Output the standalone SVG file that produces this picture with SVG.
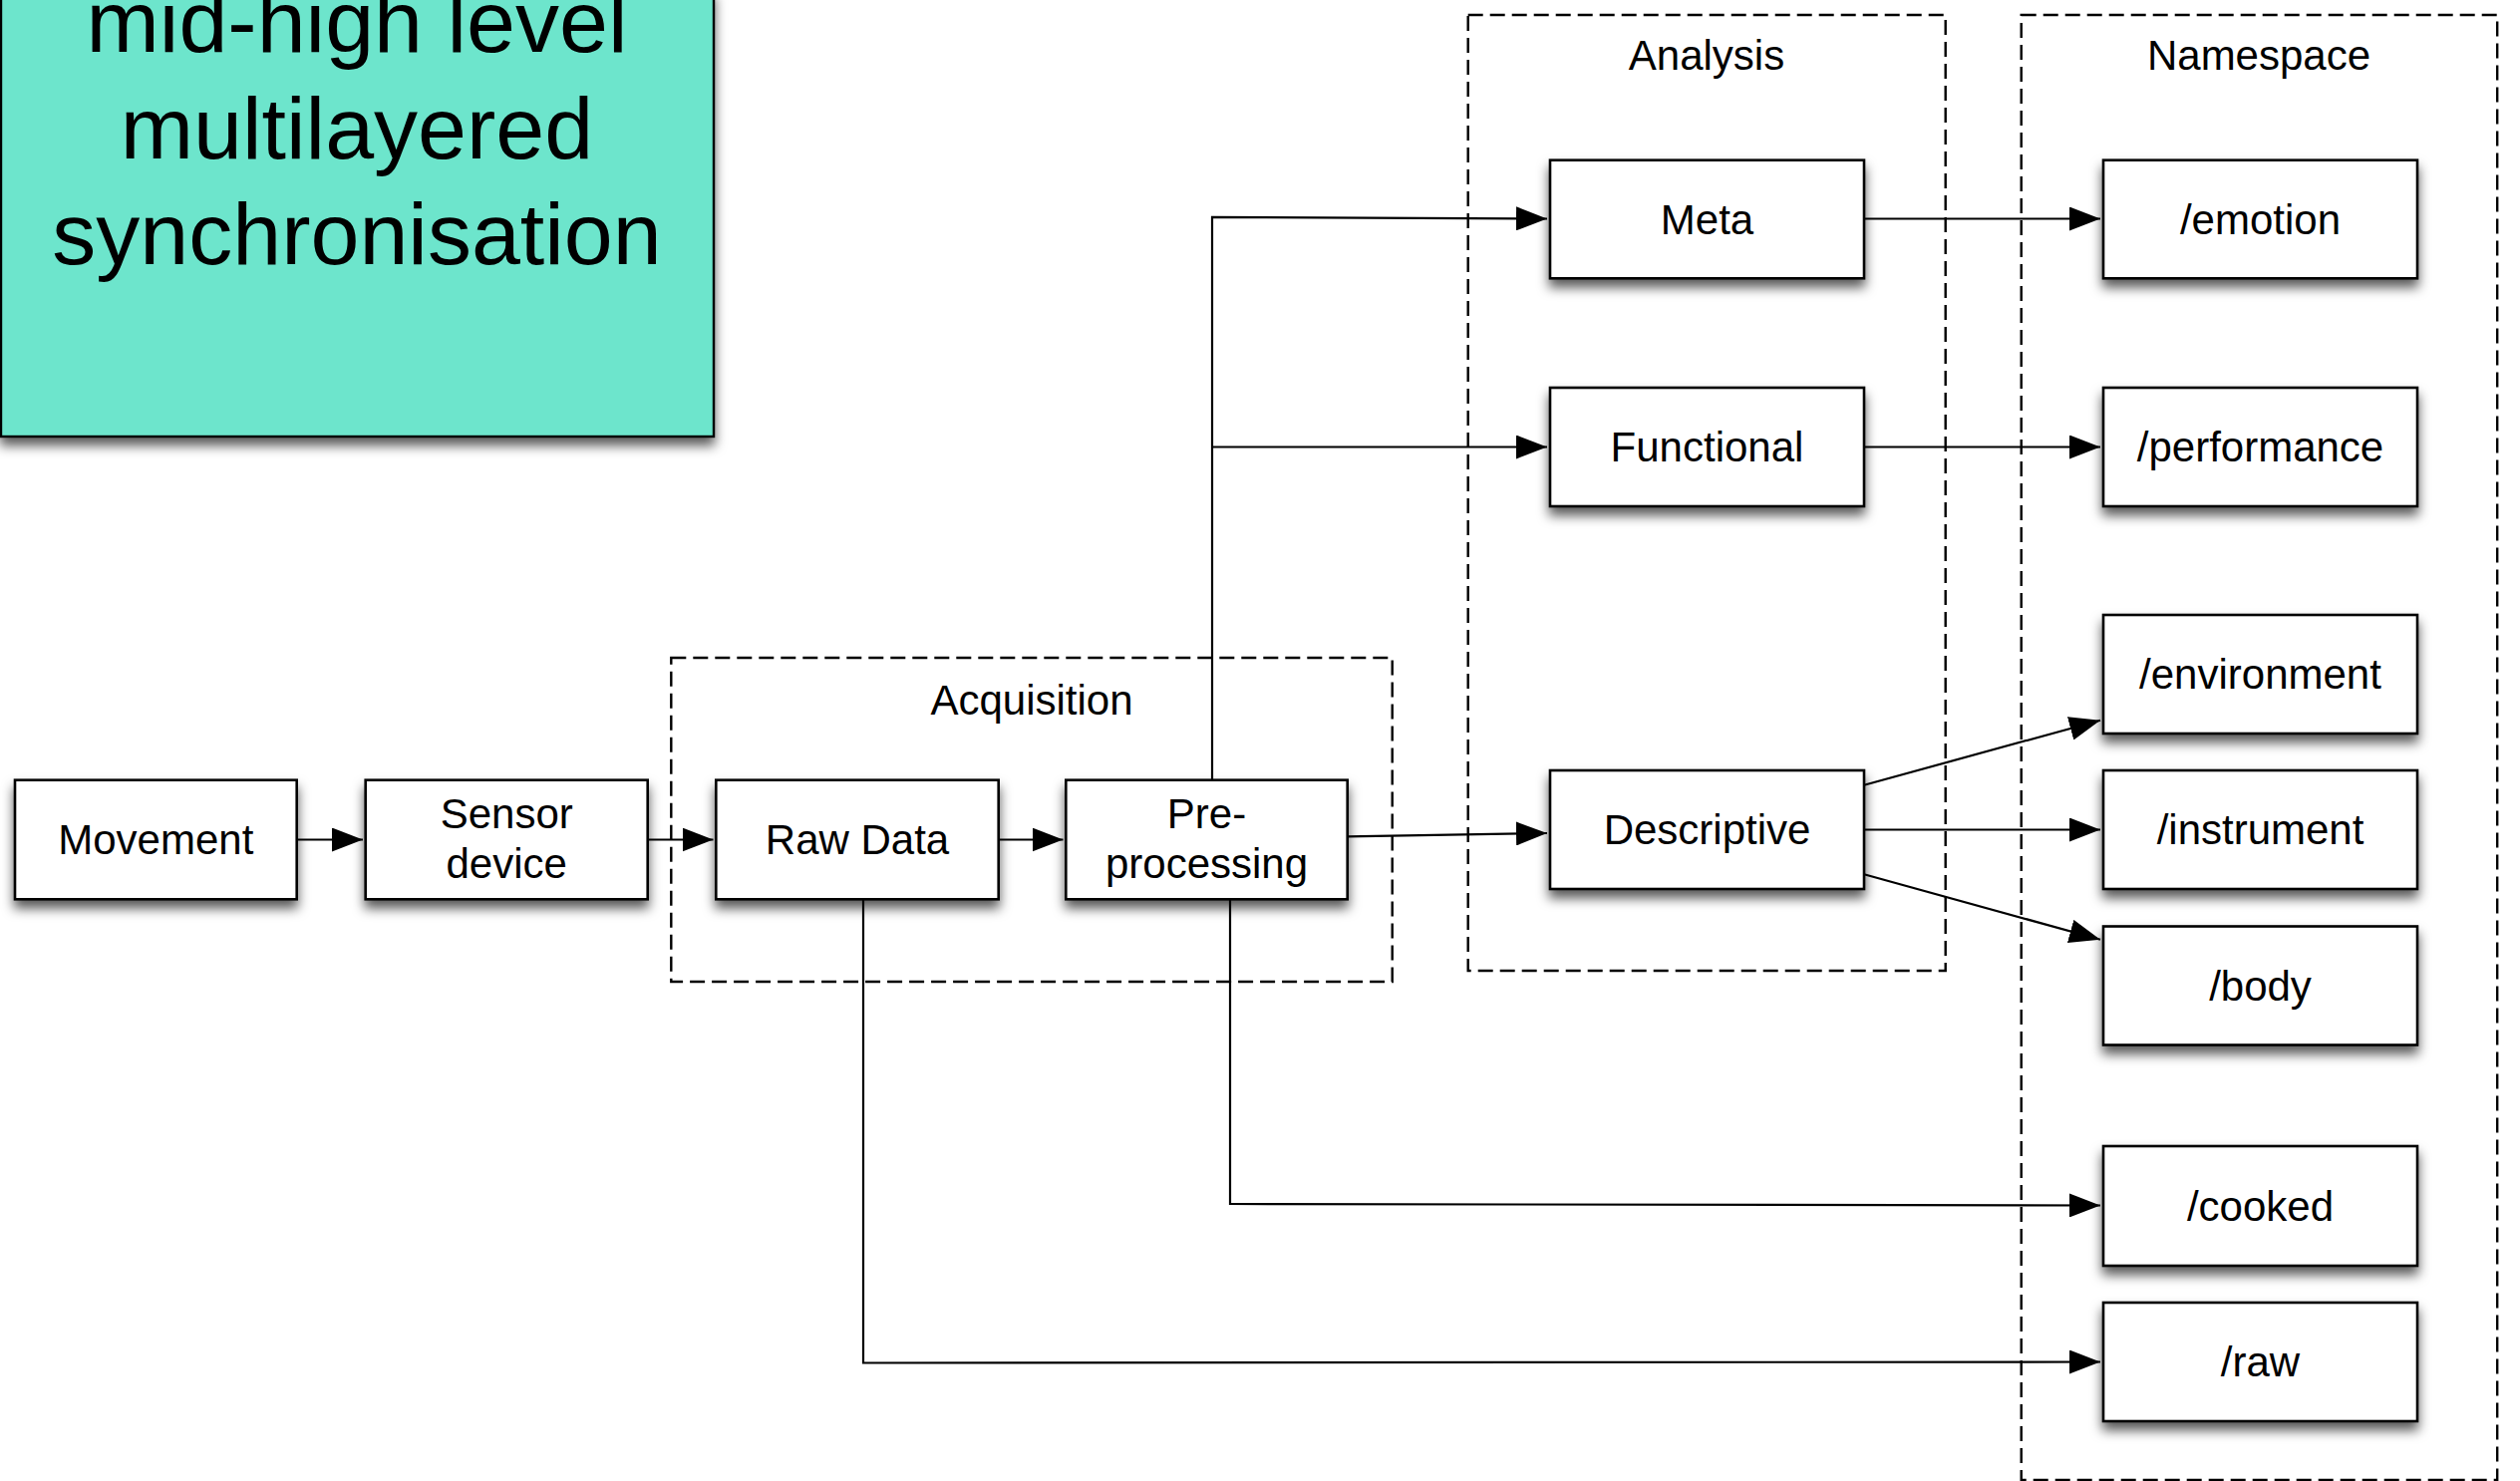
<svg xmlns="http://www.w3.org/2000/svg" width="2528" height="1486" viewBox="0 0 2528 1486">
<style>
.box{fill:#fff;stroke:#000;stroke-width:2.6;filter:url(#sh)}
.grp{fill:none;stroke:#000;stroke-width:2.4;stroke-dasharray:15 7}
.t{font-family:"Liberation Sans",Arial,sans-serif;font-size:42px;text-anchor:middle;fill:#000}
.big{font-family:"Liberation Sans",Arial,sans-serif;font-size:88px;text-anchor:middle;fill:#000}
.c{fill:none;stroke:#000;stroke-width:2.2}
</style>
<defs>
<filter id="sh" x="-20%" y="-30%" width="140%" height="170%">
<feDropShadow dx="0" dy="8" stdDeviation="6" flood-color="#000" flood-opacity="0.65"/>
</filter>
<marker id="ah" markerUnits="userSpaceOnUse" markerWidth="32" markerHeight="24" refX="31" refY="12" orient="auto">
<path d="M0,0 L31,12 L0,24 z" fill="#000"/>
</marker>
</defs>
<rect width="2528" height="1486" fill="#fff"/>

<g id="title">
<rect x="1" y="-10" width="715" height="448" fill="#6de5cc" stroke="#000" stroke-width="2.4" filter="url(#sh)"/>
<text class="big" x="358" y="52">mid-high level</text>
<text class="big" x="358" y="159">multilayered</text>
<text class="big" x="358" y="265">synchronisation</text>
</g>

<g id="acquisition">
<rect class="grp" x="673.3" y="660" width="723.4" height="325"/>
<text class="t" x="1035" y="717">Acquisition</text>
</g>
<g id="analysis">
<rect class="grp" x="1472.7" y="15" width="479" height="959"/>
<text class="t" x="1712" y="70">Analysis</text>
</g>
<g id="namespace">
<rect class="grp" x="2027.7" y="15" width="477.5" height="1470"/>
<text class="t" x="2266" y="70">Namespace</text>
</g>

<g id="connectors">
<path class="c" d="M297.7,842.5 H364" marker-end="url(#ah)"/>
<path class="c" d="M649.7,842.5 H715.5" marker-end="url(#ah)"/>
<path class="c" d="M1001.7,842.5 H1066.5" marker-end="url(#ah)"/>
<path class="c" d="M1351.7,839.3 L1552,836" marker-end="url(#ah)"/>
<path class="c" d="M1216,782.7 V217.8 L1552,219.5" marker-end="url(#ah)"/>
<path class="c" d="M1216,448.5 H1552" marker-end="url(#ah)"/>
<path class="c" d="M1870,219.5 H2107" marker-end="url(#ah)"/>
<path class="c" d="M1870,448.5 H2107" marker-end="url(#ah)"/>
<path class="c" d="M1870,787.7 L2107,722.7" marker-end="url(#ah)"/>
<path class="c" d="M1870,832.5 H2107" marker-end="url(#ah)"/>
<path class="c" d="M1870,877.3 L2107,942.7" marker-end="url(#ah)"/>
<path class="c" d="M1234,902.3 V1208 L2107,1209.5" marker-end="url(#ah)"/>
<path class="c" d="M866,902.3 V1367.5 L2107,1366.5" marker-end="url(#ah)"/>
</g>

<g id="movement"><rect class="box" x="15" y="782.7" width="282.7" height="119.6"/><text class="t" x="156.3" y="857">Movement</text></g>
<g id="sensor"><rect class="box" x="366.7" y="782.7" width="283" height="119.6"/><text class="t" x="508.2" y="831">Sensor</text><text class="t" x="508.2" y="881">device</text></g>
<g id="rawdata"><rect class="box" x="718.3" y="782.7" width="283.4" height="119.6"/><text class="t" x="860" y="857">Raw Data</text></g>
<g id="preprocessing"><rect class="box" x="1069.3" y="782.7" width="282.4" height="119.6"/><text class="t" x="1210.5" y="831">Pre-</text><text class="t" x="1210.5" y="881">processing</text></g>

<g id="meta"><rect class="box" x="1555" y="160.7" width="315" height="118.6"/><text class="t" x="1712.5" y="235">Meta</text></g>
<g id="functional"><rect class="box" x="1555" y="389" width="315" height="119"/><text class="t" x="1712.5" y="463">Functional</text></g>
<g id="descriptive"><rect class="box" x="1555" y="773" width="315" height="119"/><text class="t" x="1712.5" y="847">Descriptive</text></g>

<g id="emotion"><rect class="box" x="2110" y="160.7" width="315" height="118.6"/><text class="t" x="2267.5" y="235">/emotion</text></g>
<g id="performance"><rect class="box" x="2110" y="389" width="315" height="119"/><text class="t" x="2267.5" y="463">/performance</text></g>
<g id="environment"><rect class="box" x="2110" y="617" width="315" height="119"/><text class="t" x="2267.5" y="691">/environment</text></g>
<g id="instrument"><rect class="box" x="2110" y="773" width="315" height="119"/><text class="t" x="2267.5" y="847">/instrument</text></g>
<g id="body"><rect class="box" x="2110" y="929.5" width="315" height="119"/><text class="t" x="2267.5" y="1003.5">/body</text></g>
<g id="cooked"><rect class="box" x="2110" y="1150" width="315" height="120"/><text class="t" x="2267.5" y="1224.5">/cooked</text></g>
<g id="raw"><rect class="box" x="2110" y="1307" width="315" height="119"/><text class="t" x="2267.5" y="1381">/raw</text></g>
</svg>
